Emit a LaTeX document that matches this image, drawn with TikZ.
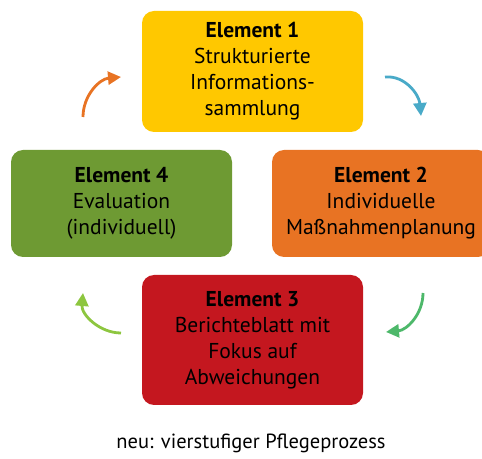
\documentclass[tikz,border=0pt]{standalone}
\usepackage{fontspec}
\setmainfont{PT Sans}
\usetikzlibrary{arrows.meta}
\definecolor{gelb}{HTML}{FFC800}
\definecolor{orange}{HTML}{E87323}
\definecolor{rot}{HTML}{C4171F}
\definecolor{gruen}{HTML}{6E9A33}
\definecolor{blau}{HTML}{49AAC8}
\definecolor{mgruen}{HTML}{4DB86A}
\definecolor{hgruen}{HTML}{8DC63F}
\tikzset{
	element/.style={rounded corners=12pt,align=center,inner sep=0pt,font=\fontsize{21.5}{26}\selectfont},
	kreis/.style={line width=2.8pt,-{Triangle[length=13pt,width=13pt]}}
}

\begin{document}
\begin{tikzpicture}[x=1pt,y=1pt]
	\useasboundingbox (0,0) rectangle (482,458);
	\node (e1) at (252.5,386.5)[element,fill=gelb,minimum width=221pt,minimum height=121pt] {\textbf{Element 1}\\Strukturierte\\Informations-\\sammlung};
	\node (e2) at (381,254.5)[element,fill=orange,minimum width=218pt,minimum height=107pt] {\textbf{Element 2}\\Individuelle\\Maßnahmenplanung};
	\node (e3) at (252.5,118)[element,fill=rot,minimum width=221pt,minimum height=130pt] {\textbf{Element 3}\\Berichteblatt mit\\Fokus auf\\Abweichungen};
	\node (e4) at (121.5,254.5)[element,fill=gruen,minimum width=221pt,minimum height=107pt] {\textbf{Element 4}\\Evaluation\\(individuell)};
	\node (titel) at (251,15)[font=\fontsize{20.5}{22}\selectfont] {neu: vierstufiger Pflegeprozess};
	% Pfeile
	\coordinate (p1a) at (385,381); \coordinate (p1b) at (421,342);
	\coordinate (p2a) at (423,165); \coordinate (p2b) at (386,126);
	\coordinate (p3a) at (121,125); \coordinate (p3b) at (83,165);
	\coordinate (p4a) at (83,341);  \coordinate (p4b) at (121,381);
	\draw[kreis,blau] (p1a) to[out=5,in=95] (p1b);
	\draw[kreis,mgruen] (p2a) to[out=-90,in=5] (p2b);
	\draw[kreis,hgruen] (p3a) to[out=180,in=-95] (p3b);
	\draw[kreis,orange] (p4a) to[out=90,in=185] (p4b);
\end{tikzpicture}
\end{document}
